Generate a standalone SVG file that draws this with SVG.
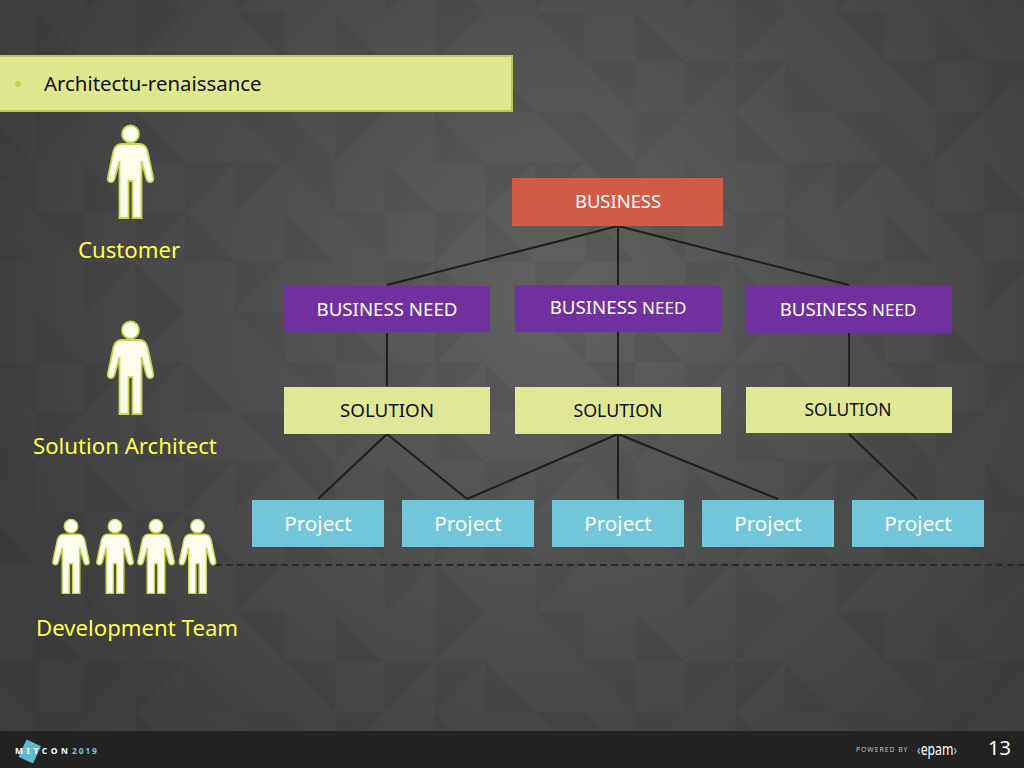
<svg xmlns="http://www.w3.org/2000/svg" width="1024" height="768" viewBox="0 0 1024 768">
<style>
text{font-family:"Noto Sans","Open Sans","Liberation Sans",sans-serif}
.w{fill:#fff;text-anchor:middle;font-size:18.700px}
.k{fill:#111;text-anchor:middle;font-size:18.800px}
.pr{fill:#fff;text-anchor:middle;font-size:20.700px}
.y{fill:#ffff4a;font-size:22.200px}
.c line{stroke:#1f1f1f;stroke-width:2}
.p{fill:#fdfdee;stroke:#c9d651;stroke-width:1.800}
</style>
<defs>
<radialGradient id="glow" gradientUnits="userSpaceOnUse" cx="560" cy="300" r="620">
<stop offset="0" stop-color="#616161"/><stop offset=".45" stop-color="#505050"/><stop offset="1" stop-color="#3d3d3d"/>
</radialGradient>
<filter id="soft" x="-20%" y="-20%" width="140%" height="140%"><feGaussianBlur stdDeviation=".45"/></filter>
<pattern id="tri" width="300" height="300" patternUnits="userSpaceOnUse" x="35" y="12">
<path fill="#000" opacity=".05" d="M0 0L50 50H0ZM100 0H150L100 50ZM200 0L250 50V0ZM50 50H100L50 100ZM100 50H150L100 100ZM150 50L200 100H150ZM250 50H300V100ZM0 100H50L0 150ZM100 100L150 150H100ZM200 100H250V150ZM250 100L300 150H250ZM50 150L100 200H50ZM150 150H200L150 200ZM200 150H250L200 200ZM250 150H300V200ZM0 200H50V250ZM100 200H150L100 250ZM150 200V250H200ZM250 200L300 250H250ZM50 250H100L50 300ZM100 250L150 300H100ZM200 250H250L200 300Z"/>
</pattern>
<g id="person"><circle cx="0" cy="9" r="8.500"/><path d="M-9 19H9Q15 19 17 26L22.500 52Q23.500 56 20.500 57Q17.500 58 16 54L11 36V93H2V56H-2V93H-11V36L-16 54Q-17.500 58-20.500 57Q-23.500 56-22.500 52L-17 26Q-15 19-9 19Z"/></g>
</defs>
<rect id="background" width="1024" height="768" fill="url(#glow)"/>
<rect width="1024" height="768" fill="url(#tri)"/>
<rect id="footer" y="731" width="1024" height="37" fill="#222"/>
<g id="title"><rect x="-3" y="56" width="515" height="55" fill="#dfe78f" stroke="#bcc95a" stroke-width="2"/><circle cx="18" cy="84" r="3" fill="#c4d35a"/><text x="44" y="91" font-size="20.400" fill="#111">Architectu-renaissance</text></g>
<g id="connectors" class="c">
<line x1="618" y1="226" x2="387" y2="285"/><line x1="618" y1="226" x2="618" y2="285"/><line x1="618" y1="226" x2="849" y2="285"/>
<line x1="387" y1="333" x2="387" y2="386"/><line x1="618" y1="332" x2="618" y2="386"/><line x1="849" y1="333" x2="849" y2="386"/>
<line x1="387" y1="434" x2="318" y2="499"/><line x1="387" y1="434" x2="467" y2="499"/><line x1="618" y1="434" x2="467" y2="499"/><line x1="618" y1="434" x2="618" y2="499"/><line x1="618" y1="434" x2="778" y2="499"/><line x1="849" y1="434" x2="917" y2="499"/>
<line x1="215" y1="565" x2="1024" y2="565" stroke-dasharray="7 4" style="stroke:#2a2a2a"/>
</g>
<g id="business"><rect x="512" y="178" width="211" height="48" fill="#d25b45"/><text class="w" x="618" y="208" style="font-size:18.400px">BUSINESS</text></g>
<g id="need1"><rect x="284" y="286" width="206" height="46" fill="#7030a0"/><text class="w" x="387" y="316">BUSINESS NEED</text></g>
<g id="need2"><rect x="515" y="285" width="206" height="47" fill="#7030a0"/><text class="w" x="618" y="314">BUSINESS <tspan font-size="17">NEED</tspan></text></g>
<g id="need3"><rect x="746" y="286" width="206" height="47" fill="#7030a0"/><text class="w" x="848" y="316">BUSINESS <tspan font-size="17">NEED</tspan></text></g>
<g id="solution1"><rect x="284" y="387" width="206" height="47" fill="#e0e796"/><text class="k" x="387" y="417">SOLUTION</text></g>
<g id="solution2"><rect x="515" y="387" width="206" height="47" fill="#e0e796"/><text class="k" x="618" y="417" style="font-size:17.800px">SOLUTION</text></g>
<g id="solution3"><rect x="746" y="387" width="206" height="46" fill="#e0e796"/><text class="k" x="848" y="416" style="font-size:17.400px">SOLUTION</text></g>
<g id="project1"><rect x="252" y="500" width="132" height="47" fill="#71c7d9"/><text class="pr" x="318" y="531">Project</text></g>
<g id="project2"><rect x="402" y="500" width="132" height="47" fill="#71c7d9"/><text class="pr" x="468" y="531">Project</text></g>
<g id="project3"><rect x="552" y="500" width="132" height="47" fill="#71c7d9"/><text class="pr" x="618" y="531">Project</text></g>
<g id="project4"><rect x="702" y="500" width="132" height="47" fill="#71c7d9"/><text class="pr" x="768" y="531">Project</text></g>
<g id="project5"><rect x="852" y="500" width="132" height="47" fill="#71c7d9"/><text class="pr" x="918" y="531">Project</text></g>
<g id="customer"><use href="#person" class="p" filter="url(#soft)" x="130.500" y="125"/><text class="y" x="78" y="258">Customer</text></g>
<g id="architect"><use href="#person" class="p" filter="url(#soft)" x="130.500" y="321"/><text class="y" x="33" y="454">Solution Architect</text></g>
<g id="team">
<g class="p" filter="url(#soft)"><use href="#person" transform="translate(71 519) scale(.8)"/><use href="#person" transform="translate(115 519) scale(.8)"/><use href="#person" transform="translate(156 519) scale(.8)"/><use href="#person" transform="translate(197.500 519) scale(.8)"/></g>
<text class="y" x="36" y="636">Development Team</text></g>
<g id="logo"><rect x="22" y="742" width="16" height="19" fill="#5dbcd2" transform="rotate(25 30 751)"/><text x="15" y="754" font-size="8.500" font-weight="700" letter-spacing="3.600" fill="#fff">MITCON</text><text x="72" y="754" font-size="8.500" font-weight="700" letter-spacing="1.800" fill="#7cc3d3">2019</text></g>
<g id="powered"><text x="856" y="752" font-size="6.800" letter-spacing="1" fill="#c4c4c4">POWERED BY</text><text transform="translate(917 755) scale(.72 1)" font-size="17" fill="#fff"><tspan fill="#5dbcd2" font-weight="700" font-size="14">‹</tspan>epam<tspan fill="#5dbcd2" font-weight="700" font-size="14">›</tspan></text></g>
<text id="page" x="988" y="755" font-size="20" fill="#fff">13</text>
</svg>
